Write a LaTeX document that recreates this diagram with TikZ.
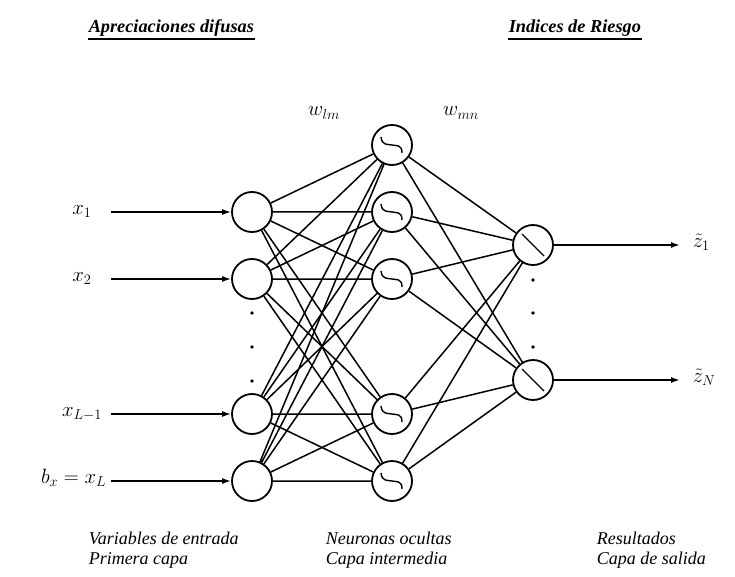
\documentclass[tikz,border=0pt]{standalone}
\usepackage{amsmath}
\usepackage{fontspec}
\setmainfont{Liberation Serif}
\usetikzlibrary{arrows.meta}

\begin{document}
\begin{tikzpicture}
  [x=1pt,y=-1pt,line width=1.5pt,
   neuron/.style={circle,draw=black,fill=white,minimum size=40pt,inner sep=0pt,line width=1.8pt},
   hidden/.style={neuron,path picture={\draw[line width=1.4pt,shift={(path picture bounding box.center)}]
       (-11pt,8pt) .. controls (-10pt,-1pt) and (-4pt,1pt) .. (0pt,0pt)
       .. controls (4pt,-1pt) and (10pt,1pt) .. (10pt,-8pt);}},
   output/.style={neuron,path picture={\draw[line width=1.4pt,shift={(path picture bounding box.center)}]
       (-11pt,11pt) -- (11pt,-11pt);}},
   lbl/.style={inner sep=0pt,font=\fontsize{22}{26}\selectfont},
   txt/.style={inner sep=0pt,anchor=base west,font=\fontsize{18}{22}\selectfont\itshape},
   head/.style={inner sep=0pt,anchor=base west,font=\fontsize{18.3}{22}\selectfont\bfseries\itshape},
   arr/.style={-{Latex[length=9pt,width=6pt]},line width=1.6pt}]

  \useasboundingbox (0,0) rectangle (735,577);

  % titles
  \node[head] (t1) at (88,33) {Apreciaciones difusas};
  \node[head] (t2) at (508,33) {Indices de Riesgo};
  \draw[line width=2pt] ([yshift=-1.5pt]t1.south west) -- ([yshift=-1.5pt]t1.south east);
  \draw[line width=2pt] ([yshift=-1.5pt]t2.south west) -- ([yshift=-1.5pt]t2.south east);

  % input layer
  \node[neuron] (i1) at (252,212) {};
  \node[neuron] (i2) at (252,279) {};
  \node[neuron] (i3) at (252,414) {};
  \node[neuron] (i4) at (252,481) {};

  % hidden layer
  \node[hidden] (h1) at (392,145) {};
  \node[hidden] (h2) at (392,212) {};
  \node[hidden] (h3) at (392,279) {};
  \node[hidden] (h4) at (392,414) {};
  \node[hidden] (h5) at (392,481) {};

  % output layer
  \node[output] (o1) at (533,245) {};
  \node[output] (o2) at (533,380) {};

  \fill (252,313) circle (1.8pt) (252,347) circle (1.8pt) (252,381) circle (1.8pt);
  \fill (533,280) circle (1.8pt) (533,313) circle (1.8pt) (533,347) circle (1.8pt);

  % weights
  \node[lbl] (wlm) at (324,113) {$w_{lm}$};
  \node[lbl] (wmn) at (461,113) {$w_{mn}$};

  \draw (i1) -- (h1) (i1) -- (h2) (i1) -- (h3) (i1) -- (h4) (i1) -- (h5);
  \draw (i2) -- (h1) (i2) -- (h2) (i2) -- (h3) (i2) -- (h4) (i2) -- (h5);
  \draw (i3) -- (h1) (i3) -- (h2) (i3) -- (h3) (i3) -- (h4) (i3) -- (h5);
  \draw (i4) -- (h1) (i4) -- (h2) (i4) -- (h3) (i4) -- (h4) (i4) -- (h5);
  \draw (h1) -- (o1) (h2) -- (o1) (h3) -- (o1) (h4) -- (o1) (h5) -- (o1);
  \draw (h1) -- (o2) (h2) -- (o2) (h3) -- (o2) (h4) -- (o2) (h5) -- (o2);

  % inputs
  \node[lbl,anchor=mid] (lx1) at (82,212) {$x_1$};
  \node[lbl,anchor=mid] (lx2) at (82,279) {$x_2$};
  \node[lbl,anchor=mid] (lx3) at (82,414) {$x_{L-1}$};
  \node[lbl,anchor=mid east] (lx4) at (107,481) {$b_x = x_L$};
  \coordinate (s1) at (111,212);
  \coordinate (s2) at (111,279);
  \coordinate (s3) at (111,414);
  \coordinate (s4) at (111,481);
  \draw[arr] (s1) -- (i1);
  \draw[arr] (s2) -- (i2);
  \draw[arr] (s3) -- (i3);
  \draw[arr] (s4) -- (i4);

  % outputs
  \coordinate (e1) at (680,245);
  \coordinate (e2) at (680,380);
  \draw[arr] (o1) -- (e1);
  \draw[arr] (o2) -- (e2);
  \node[lbl,anchor=mid west] (lz1) at (692,245) {$\tilde{z}_1$};
  \node[lbl,anchor=mid west] (lz2) at (692,380) {$\tilde{z}_N$};

  % captions
  \node[txt] (b1) at (88,544) {Variables de entrada};
  \node[txt] (b2) at (88,564) {Primera capa};
  \node[txt] (b3) at (325,544) {Neuronas ocultas};
  \node[txt] (b4) at (325,564) {Capa intermedia};
  \node[txt] (b5) at (596,544) {Resultados};
  \node[txt] (b6) at (596,564) {Capa de salida};
\end{tikzpicture}
\end{document}
